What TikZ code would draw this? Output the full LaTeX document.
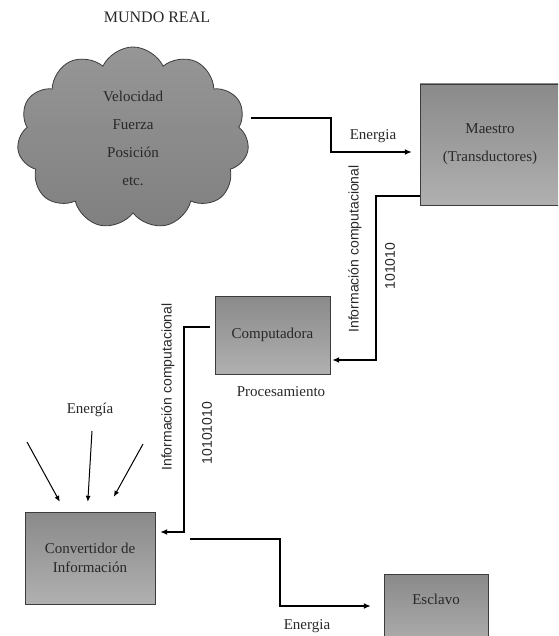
\documentclass[tikz,border=0pt]{standalone}
\usepackage{fontspec}
\setmainfont{Liberation Serif}
\newfontfamily\timesfont{Liberation Serif}
\newfontfamily\arialfont{Liberation Sans}
\usetikzlibrary{shapes.symbols,arrows.meta}
\definecolor{boxtop}{RGB}{138, 138, 138}
\definecolor{boxbottom}{RGB}{176, 176, 176}
\definecolor{cloudtop}{RGB}{150, 150, 150}
\definecolor{cloudbottom}{RGB}{128, 128, 128}
\definecolor{edgegray}{RGB}{60, 60, 60}
\definecolor{inkgray}{RGB}{40, 40, 40}

\begin{document}
\begin{tikzpicture}[x=1pt, y=-1pt,
    caja/.style   ={draw=edgegray, top color=boxtop, bottom color=boxbottom, inner sep=0pt,
                    align=center, text=inkgray, font=\timesfont\fontsize{15}{19}\selectfont},
    rotulo/.style ={text=inkgray, font=\timesfont\fontsize{15}{18}\selectfont},
    binario/.style={text=inkgray, rotate=90, font=\arialfont\fontsize{14}{16}\selectfont},
    flujo/.style  ={line width=1.7pt, -{Latex[length=7pt, width=6pt]}},
    fuerza/.style ={line width=1pt, -{Latex[length=6pt, width=5pt]}}]
    \useasboundingbox (0,0) rectangle (558,636);
    \clip             (0,0) rectangle (558,636);

    % mundo real
    \node[rotulo, font=\timesfont\fontsize{16}{18}\selectfont] (titulo) at (157, 17) {MUNDO REAL};
    \node[shape=cloud, cloud puffs=11, cloud puff arc=130, draw=edgegray, thick,
          top color=cloudtop, bottom color=cloudbottom, minimum width=232, minimum height=182,
          inner sep=0pt, align=center, text=inkgray, font=\timesfont\fontsize{15}{28}\selectfont]
          (mundo) at (133, 138) {Velocidad\\Fuerza\\Posición\\etc.};

    % cajas
    \node[caja, minimum width=140, minimum height=121, font=\timesfont\fontsize{15}{28}\selectfont]
          (maestro) at (490, 144.5) {Maestro\\(Transductores)};
    \node[caja, minimum width=115, minimum height=78]  (compu)   at (272.5, 335) {Computadora};
    \node[caja, minimum width=130, minimum height=92]  (conv)    at ( 90,   558) {Convertidor de\\Información};
    \node[caja, minimum width=104, minimum height=76]  (esclavo) at (436,   612) {Esclavo\\[6pt]\mbox{}};

    % textos
    \node[rotulo]  (energia1) at (373, 136) {Energia};
    \node[rotulo]  (proc)     at (281, 392) {Procesamiento};
    \node[rotulo]  (energia2) at ( 90, 410) {Energía};
    \node[rotulo]  (energia3) at (307, 626) {Energia};
    \node[binario] (info1)    at (355, 249) {Información computacional};
    \node[binario] (bits1)    at (390, 266) {101010};
    \node[binario] (info2)    at (168, 387) {Información computacional};
    \node[binario] (bits2)    at (207, 433) {10101010};

    % conexiones
    \coordinate (salida) at (251, 118);
    \draw[flujo] (salida) -- ++(80,0) |- ([xshift=-8pt, yshift=-7.5pt]maestro.west);
    \draw[flujo] ([yshift=9pt]maestro.south west) -- ++(-44,0) |- ([xshift=2pt, yshift=-25pt]compu.east);
    \draw[flujo] ([xshift=-5pt, yshift=8pt]compu.west) -- ++(-26,0) |- ([xshift=5pt, yshift=26pt]conv.east);
    \draw[flujo] ([xshift=35pt, yshift=19pt]conv.east) -- ++(90,0) |- ([xshift=-13pt, yshift=6pt]esclavo.west);

    \coordinate (e1) at ( 27, 442);
    \coordinate (e2) at ( 92, 431);
    \coordinate (e3) at (143, 444);
    \draw[fuerza] (e1) -- ([xshift=35pt, yshift=10pt]conv.north west);
    \draw[fuerza] (e2) -- ([xshift=63pt, yshift=10pt]conv.north west);
    \draw[fuerza] (e3) -- ([xshift=89pt, yshift=15pt]conv.north west);
\end{tikzpicture}
\end{document}
